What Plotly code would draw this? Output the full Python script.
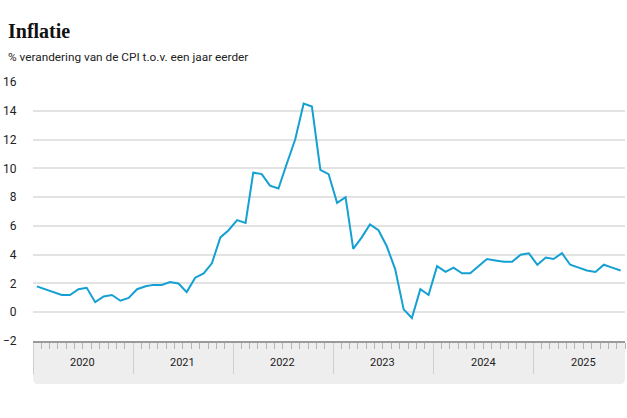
import pandas as pd
import plotly.graph_objects as go

# ---- data ----
start_month = "2020-01"
cpi_2020 = [1.8, 1.6, 1.4, 1.2, 1.2, 1.6, 1.7, 0.7, 1.1, 1.2, 0.8, 1.0]
cpi_2021 = [1.6, 1.8, 1.9, 1.9, 2.1, 2.0, 1.4, 2.4, 2.7, 3.4, 5.2, 5.7]
cpi_2022 = [6.4, 6.2, 9.7, 9.6, 8.8, 8.6, 10.3, 12.0, 14.5, 14.3, 9.9, 9.6]
cpi_2023 = [7.6, 8.0, 4.4, 5.2, 6.1, 5.7, 4.6, 3.0, 0.2, -0.4, 1.6, 1.2]
cpi_2024 = [3.2, 2.8, 3.1, 2.7, 2.7, 3.2, 3.7, 3.6, 3.5, 3.5, 4.0, 4.1]
cpi_2025 = [3.3, 3.8, 3.7, 4.1, 3.3, 3.1, 2.9, 2.8, 3.3, 3.1, 2.9]
year_labels = ["2020", "2021", "2022", "2023", "2024", "2025"]
y_ticks = [-2, 0, 2, 4, 6, 8, 10, 12, 14, 16]

values = cpi_2020 + cpi_2021 + cpi_2022 + cpi_2023 + cpi_2024 + cpi_2025
dates = pd.date_range(start_month, periods=len(values), freq="MS") + pd.Timedelta(days=14)

title = "Inflatie"
subtitle = "% verandering van de CPI t.o.v. een jaar eerder"

W, H = 627, 418
ml, mr, mt, mb = 33, 2, 82, 77
plot_h = H - mt - mb
plot_w = W - ml - mr


def px_x(px):
    return (px - ml) / plot_w


def px_y(py):
    return (H - mb - py) / plot_h


fig = go.Figure()
fig.add_trace(go.Scatter(
    x=dates, y=values, mode="lines",
    line=dict(color="#14a0d2", width=2),
    hoverinfo="x+y", showlegend=False,
))

# bottom band (rounded bottom corners)
yb = px_y(384)
rx = 5 / plot_w
ry = 5 / plot_h
path = (f"M 0,0 L 1,0 L 1,{yb + ry} Q 1,{yb} {1 - rx},{yb} "
        f"L {rx},{yb} Q 0,{yb} 0,{yb + ry} Z")
fig.add_shape(type="path", path=path, xref="paper", yref="paper",
              fillcolor="#eeeeee", line=dict(width=0), layer="below")

for lab in year_labels:
    fig.add_annotation(
        x=f"{lab}-07-01", xref="x", y=px_y(362), yref="paper",
        text=lab, showarrow=False, xanchor="center", yanchor="middle",
        font=dict(family="Roboto", size=11, color="#222222"),
    )

fig.add_annotation(
    x=px_x(6), xref="paper", y=px_y(31), yref="paper",
    text=f"<b>{title}</b>", showarrow=False, xanchor="left", yanchor="middle",
    font=dict(family="Liberation Serif", size=20, color="#111111"),
)
fig.add_annotation(
    x=px_x(6), xref="paper", y=px_y(57), yref="paper",
    text=subtitle, showarrow=False, xanchor="left", yanchor="middle",
    font=dict(family="Roboto", size=11.8, color="#222222"),
)

fig.update_layout(
    width=W, height=H,
    margin=dict(l=ml, r=mr, t=mt, b=mb, pad=0, autoexpand=False),
    paper_bgcolor="white", plot_bgcolor="white",
    font=dict(family="Roboto", size=12, color="#222222"),
    xaxis=dict(
        type="date", automargin=False,
        range=["2020-01-01", "2025-12-01"],
        showgrid=False, zeroline=False,
        showline=True, linecolor="#9a9a9a", linewidth=2,
        ticks="outside", ticklen=31, tickcolor="#cfcfcf", tickwidth=1,
        tick0="2020-01-01", dtick="M12",
        showticklabels=False,
        minor=dict(ticks="outside", ticklen=6, tickcolor="#b5b5b5",
                   tickwidth=1, dtick="M1", tick0="2020-01-01", showgrid=False),
        fixedrange=True,
    ),
    yaxis=dict(
        range=[-2, 16], tickvals=y_ticks, automargin=False,
        showgrid=True, gridcolor="#e3e3e3", gridwidth=1.5,
        zeroline=False, showline=False,
        ticks="outside", ticklen=13, tickcolor="rgba(0,0,0,0)",
        tickfont=dict(family="Roboto", size=12, color="#222222"),
        fixedrange=True,
    ),
)

fig.write_html(
    "out.html",
    config={"displayModeBar": False},
    post_script="document.body.style.margin='0';document.body.style.overflow='hidden';",
)
